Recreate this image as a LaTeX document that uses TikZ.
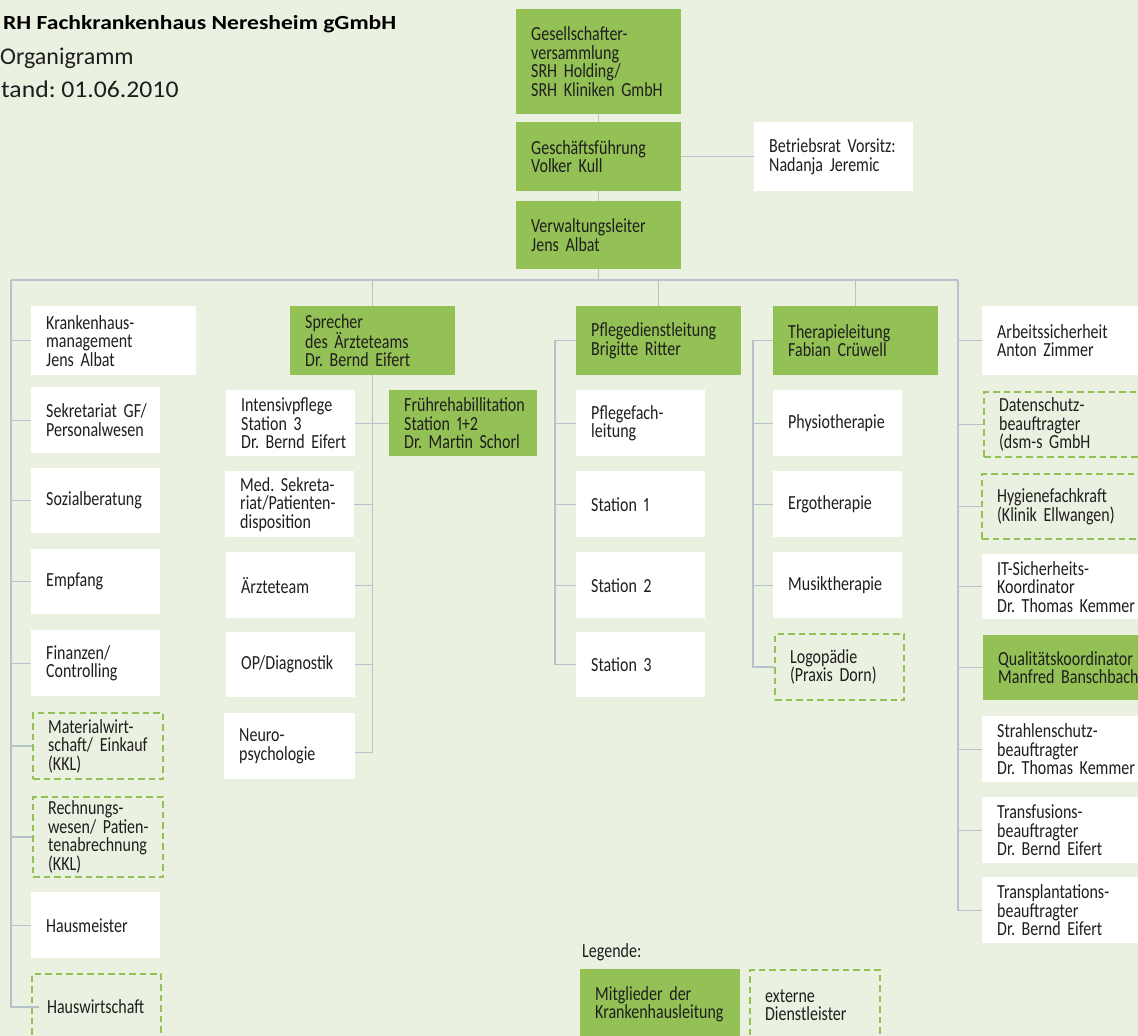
\documentclass[tikz,border=0pt]{standalone}
\usepackage{fontspec}
\setmainfont{Carlito}[FakeStretch=0.8, WordSpace=0.6, Numbers=Proportional]
\newfontfamily\hdfont{Carlito}[FakeStretch=1.18]
\newfontfamily\subfont{Carlito}
\newfontfamily\datefont{Carlito}[FakeStretch=1.07]
\definecolor{bgc}{HTML}{EBF1E0}
\definecolor{grn}{HTML}{94C155}
\definecolor{lnc}{HTML}{B5C3CD}
\definecolor{txc}{HTML}{1E1E1E}
\hyphenpenalty=10000 \exhyphenpenalty=10000
\frenchspacing
\tikzset{
  obase/.style={inner xsep=0pt, inner ysep=0pt, align=left, text=txc,
    font=\frenchspacing\fontsize{20}{18.5}\selectfont},
  wbox/.style={obase, fill=white},
  gbox/.style={obase, fill=grn},
  dbox/.style={obase, draw=grn, line width=2.2pt, dash pattern=on 6.5pt off 4pt},
  conn/.style={draw=lnc, line width=1.3pt},
  hdtext/.style={anchor=base west, inner sep=0pt, text=txc},
}
% style, name, x, y (top, pixels down), width, height, text
\newcommand\obox[7]{%
  \node[#1, anchor=north west, minimum width=#5pt, minimum height=#6pt, text width=#5pt]
    (#2) at (#3,#4) {\leftskip=15pt\relax #7\par};}
\begin{document}
\begin{tikzpicture}[x=1pt,y=-1pt]
\useasboundingbox (0,0) rectangle (1138,1036);
\fill[bgc] (0,0) rectangle (1138,1036);
\clip (0,0) rectangle (1138,1036);

% header
\node[hdtext, text=black, font={\hdfont\bfseries\fontsize{20}{24}\selectfont}] (title) at (3,29) {RH Fachkrankenhaus Neresheim gGmbH};
\node[hdtext, font={\subfont\fontsize{24}{28}\selectfont}] (org) at (0,64) {Organigramm};
\node[hdtext, font={\datefont\fontsize{24}{28}\selectfont}] (stand) at (1,97) {tand: 01.06.2010};

% top
\obox{gbox}{gs}{516}{9}{165}{105}{Gesellschafter-\\versammlung\\SRH Holding/\\SRH Kliniken GmbH}
\obox{gbox}{gf}{516}{122}{165}{69}{Geschäftsführung\\Volker Kull}
\obox{gbox}{vl}{516}{201}{165}{68}{Verwaltungsleiter\\Jens Albat}
\obox{wbox}{br}{754}{122}{159}{69}{Betriebsrat Vorsitz:\\Nadanja Jeremic}

% left column
\obox{wbox}{km}{31}{306}{165}{69}{Krankenhaus-\\management\\Jens Albat}
\obox{wbox}{sek}{31}{387}{129}{66}{Sekretariat GF/\\Personalwesen}
\obox{wbox}{soz}{31}{468}{129}{65}{Sozialberatung}
\obox{wbox}{emp}{31}{549}{129}{65}{Empfang}
\obox{wbox}{fin}{31}{630}{129}{66}{Finanzen/\\Controlling}
\obox{dbox}{mat}{32}{712}{130}{66}{Materialwirt-\\schaft/ Einkauf\\(KKL)}
\obox{dbox}{rech}{32}{796}{130}{80}{Rechnungs-\\wesen/ Patien-\\tenabrechnung\\(KKL)}
\obox{wbox}{haus}{31}{892}{129}{66}{Hausmeister}
\obox{dbox}{hw}{31}{973}{129}{66}{Hauswirtschaft}

% doctors
\obox{gbox}{spr}{290}{306}{165}{69}{Sprecher\\des Ärzteteams\\Dr. Bernd Eifert}
\obox{wbox}{int}{226}{390}{129}{66}{Intensivpflege\\Station 3\\Dr. Bernd Eifert}
\obox{gbox}{fr}{389}{390}{148}{66}{Frührehabillitation\\Station 1+2\\Dr. Martin Schorl}
\obox{wbox}{med}{225}{471}{129}{66}{Med. Sekreta-\\riat/Patienten-\\disposition}
\obox{wbox}{aet}{226}{552}{129}{66}{Ärzteteam}
\obox{wbox}{op}{226}{632}{129}{65}{OP/Diagnostik}
\obox{wbox}{neu}{224}{713}{131}{66}{Neuro-\\psychologie}

% nursing
\obox{gbox}{pdl}{576}{306}{165}{69}{Pflegedienstleitung\\Brigitte Ritter}
\obox{wbox}{pfl}{576}{390}{129}{66}{Pflegefach-\\leitung}
\obox{wbox}{sa}{576}{471}{129}{66}{Station 1}
\obox{wbox}{sb}{576}{552}{129}{66}{Station 2}
\obox{wbox}{sc}{576}{632}{129}{65}{Station 3}

% therapy
\obox{gbox}{tl}{773}{306}{165}{69}{Therapieleitung\\Fabian Crüwell}
\obox{wbox}{phy}{773}{390}{129}{66}{Physiotherapie}
\obox{wbox}{erg}{773}{471}{129}{66}{Ergotherapie}
\obox{wbox}{mus}{773}{552}{129}{66}{Musiktherapie}
\obox{dbox}{logo}{774}{633}{129}{66}{Logopädie\\(Praxis Dorn)}

% right column
\obox{wbox}{as}{982}{306}{180}{69}{Arbeitssicherheit\\Anton Zimmer}
\obox{dbox}{ds}{983}{391}{180}{65}{Datenschutz-\\beauftragter\\(dsm-s GmbH}
\obox{dbox}{hy}{981}{473}{180}{65}{Hygienefachkraft\\(Klinik Ellwangen)}
\obox{wbox}{it}{982}{554}{180}{65}{IT-Sicherheits-\\Koordinator\\Dr. Thomas Kemmer}
\obox{gbox}{qk}{983}{635}{180}{65}{Qualitätskoordinator\\Manfred Banschbach}
\obox{wbox}{sls}{982}{716}{180}{66}{Strahlenschutz-\\beauftragter\\Dr. Thomas Kemmer}
\obox{wbox}{tf}{982}{797}{180}{66}{Transfusions-\\beauftragter\\Dr. Bernd Eifert}
\obox{wbox}{tp}{982}{877}{180}{66}{Transplantations-\\beauftragter\\Dr. Bernd Eifert}

% legend
\node[hdtext, font=\fontsize{20}{18.5}\selectfont] (leg) at (582,957) {Legende:};
\obox{gbox}{mg}{580}{969}{160}{70}{Mitglieder der\\Krankenhausleitung}
\obox{dbox}{ex}{749}{969}{130}{70}{externe\\Dienstleister}

% connectors
\coordinate (bl) at (11,280);
\coordinate (bn) at (958,280);
\draw[conn] (bl) -- (bn);
\draw[conn] (gs.south) -- (gf.north);
\draw[conn] (gf.south) -- (vl.north);
\draw[conn] (gf.east) -- (br.west);
\draw[conn] (vl.south) -- (vl.south |- bl);

\draw[conn] (bl) -- (bl |- hw.west) -- ([xshift=8pt]hw.west);
\foreach \n in {km,sek,soz,emp,fin,mat,rech,haus}
  \draw[conn] (bl |- \n.west) -- (\n.west);

\coordinate (neut) at ([yshift=-6pt]neu.east);
\draw[conn] (spr.north |- bl) -- (spr.north);
\draw[conn] (spr.south) -- (spr.south |- neut) -- (neut);
\draw[conn] (int.east) -- (fr.west);
\foreach \n in {med,aet,op}
  \draw[conn] (spr.south |- \n.east) -- (\n.east);

\coordinate (pb) at (555,340);
\draw[conn] (pdl.north |- bl) -- (pdl.north);
\draw[conn] (pdl.west) -- (pb |- pdl.west) -- (pb |- sc.west) -- (sc.west);
\foreach \n in {pfl,sa,sb}
  \draw[conn] (pb |- \n.west) -- (\n.west);

\coordinate (tb) at (753,340);
\draw[conn] (tl.north |- bl) -- (tl.north);
\draw[conn] (tl.west) -- (tb |- tl.west) -- (tb |- logo.west) -- (logo.west);
\foreach \n in {phy,erg,mus}
  \draw[conn] (tb |- \n.west) -- (\n.west);

\draw[conn] (bn) -- (bn |- tp.west) -- (tp.west);
\foreach \n in {as,ds,hy,it,qk,sls,tf}
  \draw[conn] (bn |- \n.west) -- (\n.west);
\end{tikzpicture}
\end{document}
